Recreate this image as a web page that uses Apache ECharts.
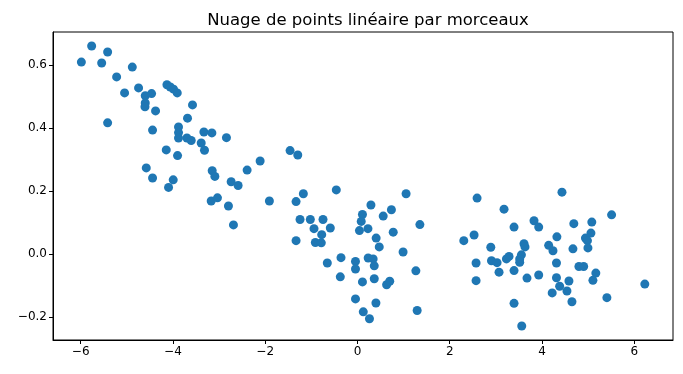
<!DOCTYPE html>
<html><head><meta charset="utf-8">
<script src="https://cdn.jsdelivr.net/npm/echarts@6/dist/echarts.min.js"></script>
<style>html,body{margin:0;padding:0;background:#fff}#c{width:683px;height:374px}</style>
</head><body><div id="c"></div>
<script>
const chartTitle = 'Nuage de points linéaire par morceaux';
const xValues = [
 -5.762,-5.416,-5.985,-5.545,-4.881,-5.221,-5.048,-4.745,-4.600,-4.463,
 -4.600,-4.606,-4.377,-4.130,-4.058,-3.987,-3.907,-5.416,-4.442,-3.576,
 -3.684,-3.879,-3.879,-3.879,-3.697,-3.604,-3.329,-3.156,-3.387,-3.316,
 -2.840,-4.145,-3.900,-4.578,-4.442,-3.994,-4.095,-3.149,-3.091,-2.738,
 -2.587,-2.392,-2.110,-3.171,-3.035,-2.797,-2.688,-1.909,-1.461,-1.294,
 -1.331,-1.173,-0.459,-1.245,-1.022,-0.747,-0.942,-0.589,-0.775,-0.913,
 -0.784,-1.331,-0.654,-0.357,-0.372,-0.043,-0.043,0.108,-0.043,0.126,
 0.260,0.292,0.108,0.082,0.043,0.227,0.558,0.736,1.054,0.405,
 0.472,0.775,0.232,0.340,0.364,0.989,0.364,0.632,0.699,0.400,
 1.353,1.266,1.294,2.593,3.177,3.394,3.827,3.929,2.305,2.528,
 2.890,3.610,3.632,4.145,4.238,2.571,2.905,3.026,3.229,3.286,
 3.554,3.517,3.517,3.069,3.394,3.675,3.929,4.314,4.314,4.221,
 2.571,3.394,3.561,4.433,5.509,4.690,5.080,4.323,5.061,4.942,
 4.985,4.996,4.671,4.801,4.903,5.167,5.104,4.584,4.383,4.541,
 4.649,5.407,6.229
];
const yValues = [
 0.661,0.642,0.610,0.607,0.594,0.563,0.512,0.528,0.503,0.510,
 0.480,0.468,0.455,0.538,0.531,0.524,0.512,0.417,0.394,0.474,
 0.432,0.404,0.386,0.369,0.369,0.361,0.388,0.385,0.353,0.330,
 0.370,0.331,0.313,0.274,0.242,0.236,0.212,0.265,0.247,0.230,
 0.218,0.267,0.296,0.169,0.179,0.153,0.093,0.169,0.329,0.315,
 0.167,0.192,0.204,0.110,0.110,0.110,0.081,0.083,0.062,0.037,
 0.036,0.043,-0.028,-0.011,-0.072,-0.023,-0.047,-0.088,-0.142,-0.183,
 -0.205,0.156,0.126,0.104,0.075,0.081,0.121,0.141,0.192,0.051,
 0.023,0.070,-0.012,-0.015,-0.037,0.007,-0.078,-0.097,-0.086,-0.155,
 0.094,-0.053,-0.179,0.178,0.143,0.086,0.106,0.086,0.043,0.061,
 0.022,0.033,0.023,0.028,0.011,-0.028,-0.021,-0.027,-0.015,-0.007,
 -0.002,-0.015,-0.026,-0.057,-0.052,-0.076,-0.066,-0.028,-0.075,-0.123,
 -0.084,-0.156,-0.228,0.197,0.125,0.097,0.102,0.055,0.067,0.051,
 0.043,0.020,0.017,-0.039,-0.039,-0.060,-0.083,-0.085,-0.102,-0.117,
 -0.151,-0.138,-0.095
];
const xTicks = [-6,-4,-2,0,2,4,6];
const yTicks = [-0.2,0,0.2,0.4,0.6];

const fmt = (v, d) => (v < -1e-9 ? '\u2212' : '') + Math.abs(v).toFixed(d);
const points = xValues.map((x, i) => [x, yValues[i]]);
const FONT = 'DejaVu Sans';

const chart = echarts.init(document.getElementById('c'), null, {renderer: 'canvas'});
chart.setOption({
  animation: false,
  backgroundColor: '#fff',
  title: {
    text: chartTitle, left: 363, top: 7, textAlign: 'center',
    textStyle: {fontFamily: FONT, fontSize: 16.5, fontWeight: 'normal', color: '#000'}
  },
  grid: {left: 53, right: 10, top: 32, bottom: 34, show: true, borderColor: '#000', borderWidth: 1, backgroundColor: 'transparent'},
  xAxis: {
    type: 'value', min: -6.6, max: 6.84,
    axisLine: {onZero: false, lineStyle: {color: '#000', width: 1}},
    axisTick: {show: true, length: 4, customValues: xTicks, lineStyle: {color: '#000'}},
    axisLabel: {customValues: xTicks, formatter: v => fmt(v, 0), color: '#000', fontFamily: FONT, fontSize: 12, margin: 6},
    splitLine: {show: false}
  },
  yAxis: {
    type: 'value', min: -0.2725, max: 0.7055,
    axisLine: {onZero: false, lineStyle: {color: '#000', width: 1}},
    axisTick: {show: true, length: 4, customValues: yTicks, lineStyle: {color: '#000'}},
    axisLabel: {customValues: yTicks, formatter: v => fmt(v, 1), color: '#000', fontFamily: FONT, fontSize: 12, margin: 6},
    splitLine: {show: false}
  },
  series: [{
    type: 'scatter', data: points, symbol: 'circle', symbolSize: 9,
    itemStyle: {color: '#1f77b4', opacity: 1}
  }]
});
</script></body></html>
